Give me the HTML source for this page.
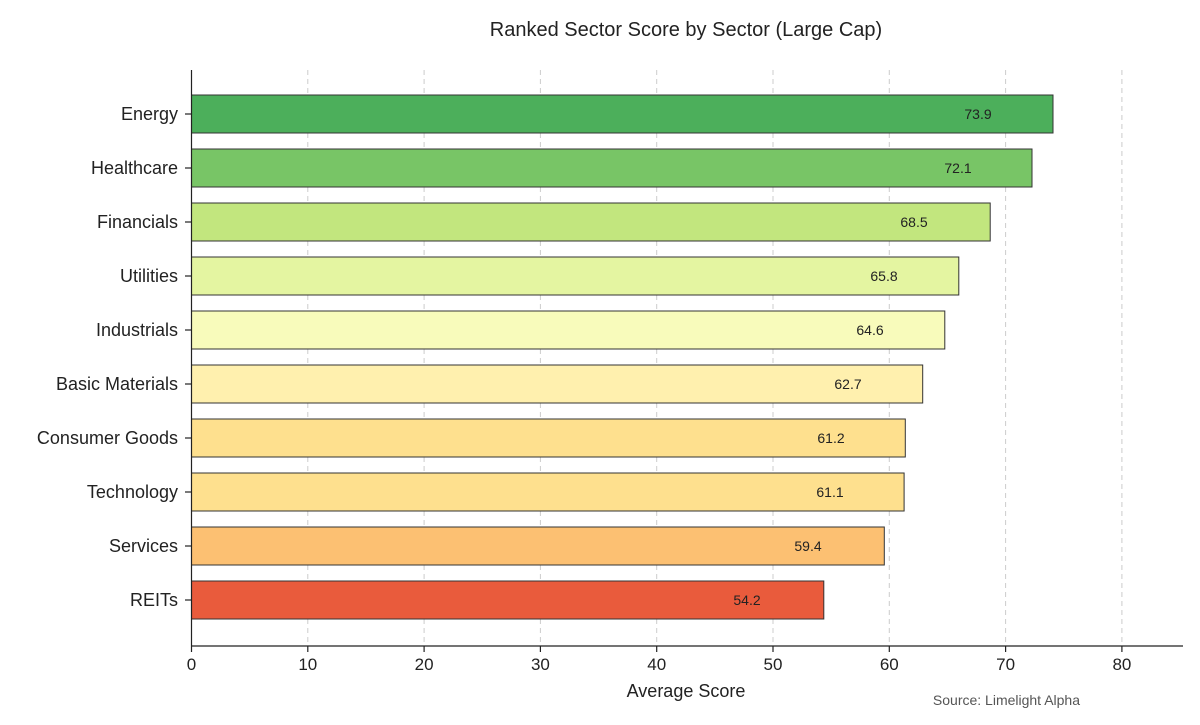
<!DOCTYPE html><html><head><style>body{margin:0;background:#fff}</style></head><body>
<svg width="1200" height="720" xmlns="http://www.w3.org/2000/svg" font-family="Liberation Sans, sans-serif">
<rect width="1200" height="720" fill="#fff"/>
<text x="686" y="36" font-size="20" text-anchor="middle" fill="#222">Ranked Sector Score by Sector (Large Cap)</text>
<g stroke="#ccc" stroke-dasharray="5,4" stroke-width="1">
<line x1="307.8" y1="70" x2="307.8" y2="646"/><line x1="424.1" y1="70" x2="424.1" y2="646"/><line x1="540.4" y1="70" x2="540.4" y2="646"/><line x1="656.7" y1="70" x2="656.7" y2="646"/><line x1="773" y1="70" x2="773" y2="646"/><line x1="889.3" y1="70" x2="889.3" y2="646"/><line x1="1005.6" y1="70" x2="1005.6" y2="646"/><line x1="1121.9" y1="70" x2="1121.9" y2="646"/>
</g>
<g stroke="#333" stroke-width="1">
<rect x="191.5" y="95" width="861.5" height="38" fill="#4caf5b"/>
<rect x="191.5" y="149" width="840.5" height="38" fill="#78c566"/>
<rect x="191.5" y="203" width="798.7" height="38" fill="#c2e67e"/>
<rect x="191.5" y="257" width="767.3" height="38" fill="#e4f5a1"/>
<rect x="191.5" y="311" width="753.3" height="38" fill="#f8fbbb"/>
<rect x="191.5" y="365" width="731.2" height="38" fill="#fff0ae"/>
<rect x="191.5" y="419" width="713.8" height="38" fill="#fee08e"/>
<rect x="191.5" y="473" width="712.6" height="38" fill="#fee08e"/>
<rect x="191.5" y="527" width="692.8" height="38" fill="#fcc072"/>
<rect x="191.5" y="581" width="632.3" height="38" fill="#e95b3c"/>
</g>
<g font-size="14" fill="#222" text-anchor="middle">
<text x="978" y="119">73.9</text><text x="958" y="173">72.1</text><text x="914" y="227">68.5</text><text x="884" y="281">65.8</text><text x="870" y="335">64.6</text><text x="848" y="389">62.7</text><text x="831" y="443">61.2</text><text x="830" y="497">61.1</text><text x="808" y="551">59.4</text><text x="747" y="605">54.2</text>
</g>
<g font-size="18" fill="#222" text-anchor="end">
<text x="178" y="120">Energy</text><text x="178" y="174">Healthcare</text><text x="178" y="228">Financials</text><text x="178" y="282">Utilities</text><text x="178" y="336">Industrials</text><text x="178" y="390">Basic Materials</text><text x="178" y="444">Consumer Goods</text><text x="178" y="498">Technology</text><text x="178" y="552">Services</text><text x="178" y="606">REITs</text>
</g>
<g stroke="#222" stroke-width="1.2">
<line x1="191.5" y1="70" x2="191.5" y2="646"/><line x1="191" y1="646" x2="1183" y2="646"/>
<line x1="185" y1="114" x2="191" y2="114"/><line x1="185" y1="168" x2="191" y2="168"/><line x1="185" y1="222" x2="191" y2="222"/><line x1="185" y1="276" x2="191" y2="276"/><line x1="185" y1="330" x2="191" y2="330"/><line x1="185" y1="384" x2="191" y2="384"/><line x1="185" y1="438" x2="191" y2="438"/><line x1="185" y1="492" x2="191" y2="492"/><line x1="185" y1="546" x2="191" y2="546"/><line x1="185" y1="600" x2="191" y2="600"/>
<line x1="191.5" y1="646" x2="191.5" y2="652"/><line x1="307.8" y1="646" x2="307.8" y2="652"/><line x1="424.1" y1="646" x2="424.1" y2="652"/><line x1="540.4" y1="646" x2="540.4" y2="652"/><line x1="656.7" y1="646" x2="656.7" y2="652"/><line x1="773" y1="646" x2="773" y2="652"/><line x1="889.3" y1="646" x2="889.3" y2="652"/><line x1="1005.6" y1="646" x2="1005.6" y2="652"/><line x1="1121.9" y1="646" x2="1121.9" y2="652"/>
</g>
<g font-size="17" fill="#222" text-anchor="middle">
<text x="191.5" y="670">0</text><text x="307.8" y="670">10</text><text x="424.1" y="670">20</text><text x="540.4" y="670">30</text><text x="656.7" y="670">40</text><text x="773" y="670">50</text><text x="889.3" y="670">60</text><text x="1005.6" y="670">70</text><text x="1121.9" y="670">80</text>
</g>
<text x="686" y="697" font-size="18" text-anchor="middle" fill="#222">Average Score</text>
<text x="1080" y="705" font-size="14" text-anchor="end" fill="#555">Source: Limelight Alpha</text>
</svg>
</body></html>
